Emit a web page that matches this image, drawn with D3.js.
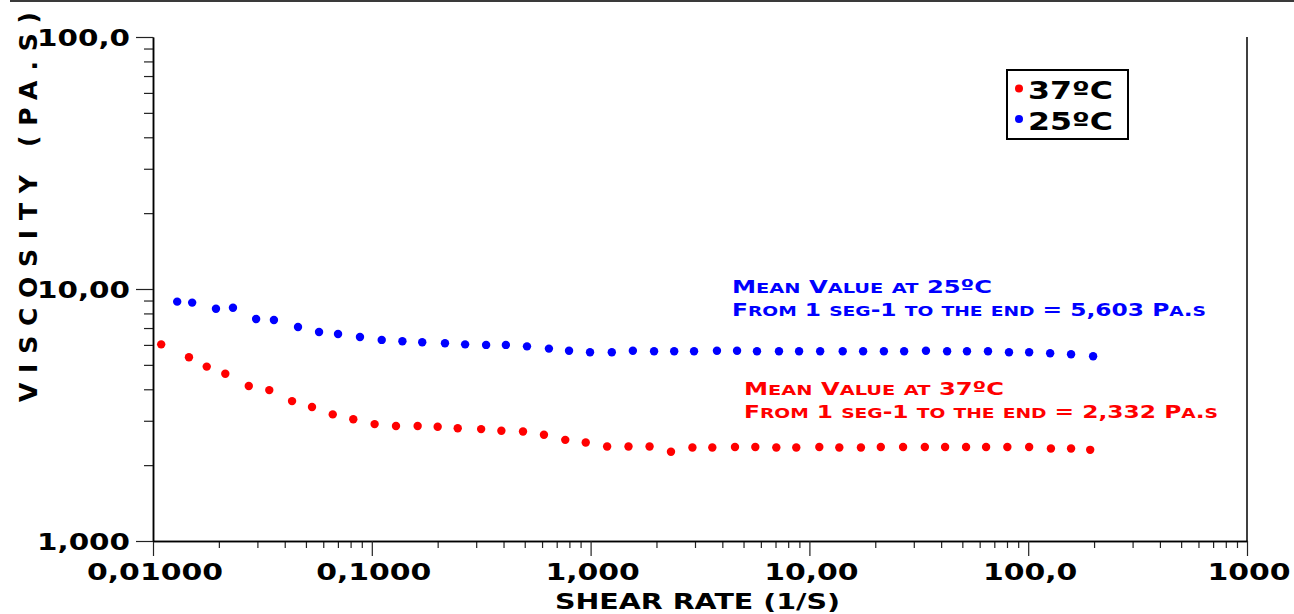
<!DOCTYPE html>
<html>
<head>
<meta charset="utf-8">
<script src="https://cdn.jsdelivr.net/npm/d3@7"></script>
<style>
  body { margin: 0; background: #fff; }
  svg text { font-family: "DejaVu Sans", sans-serif; font-weight: bold; }
</style>
</head>
<body>
<svg id="chart" width="1294" height="614"></svg>
<script>
// --- data ---
const rate37 = [0.0109, 0.0146, 0.0176, 0.0214, 0.0274, 0.0340, 0.0432, 0.0533, 0.0663, 0.0823, 0.103, 0.129,
  0.162, 0.200, 0.247, 0.316, 0.391, 0.491, 0.612, 0.766, 0.950, 1.19, 1.49, 1.86, 2.33, 2.92, 3.60, 4.57, 5.66, 7.06, 8.71, 11.1, 13.7,
  17.2, 21.2, 26.8, 33.7, 41.7, 52.0, 64.2, 80.3, 101, 127, 157, 192];
const visc37 = [6.03, 5.36, 4.92, 4.61, 4.12, 3.97, 3.59, 3.40, 3.18, 3.04, 2.91, 2.86,
  2.86, 2.84, 2.80, 2.78, 2.74, 2.72, 2.64, 2.52, 2.46, 2.37, 2.37, 2.37, 2.26, 2.35, 2.35, 2.36, 2.36, 2.35, 2.35, 2.36, 2.35,
  2.35, 2.36, 2.36, 2.36, 2.36, 2.36, 2.36, 2.36, 2.36, 2.33, 2.33, 2.30];

const rate25 = [0.0129, 0.0151, 0.0194, 0.0232, 0.0296, 0.0357, 0.0460, 0.0574, 0.0701, 0.0883, 0.111,
  0.138, 0.170, 0.216, 0.267, 0.333, 0.410, 0.512, 0.645, 0.797, 0.994, 1.25, 1.56, 1.95, 2.41, 2.97, 3.78, 4.67, 5.76, 7.26, 8.97, 11.2,
  14.2, 17.6, 21.9, 27.1, 34.1, 42.6, 52.5, 65.5, 81.7, 101, 126, 157, 198];
const visc25 = [8.91, 8.83, 8.35, 8.43, 7.60, 7.53, 7.07, 6.75, 6.63, 6.45, 6.28,
  6.20, 6.15, 6.09, 6.03, 6.00, 6.00, 5.92, 5.80, 5.69, 5.61, 5.61, 5.69, 5.66, 5.66, 5.66, 5.69, 5.69, 5.66, 5.66, 5.66, 5.66, 5.66,
  5.66, 5.66, 5.66, 5.69, 5.66, 5.66, 5.66, 5.61, 5.61, 5.56, 5.51, 5.41];

const xTickValues = [0.01, 0.1, 1, 10, 100, 1000];
const xTickLabels = ["0,01000", "0,1000", "1,000", "10,00", "100,0", "1000"];
const yTickValues = [1, 10, 100];
const yTickLabels = ["1,000", "10,00", "100,0"];

const seriesNames = ["37ºC", "25ºC"];
const seriesColors = ["#ff0000", "#0000ff"];

const note25 = ["Mean Value at 25ºC", "From 1 seg-1 to the end = 5,603 Pa.s"];
const note37 = ["Mean Value at 37ºC", "From 1 seg-1 to the end = 2,332 Pa.s"];

const xTitle = "SHEAR RATE (1/S)";
const yTitle = "VISCOSITY (PA.S)";

// --- layout ---
const svg = d3.select("#chart");
const plotL = 153, plotR = 1247, plotT = 37, plotB = 541;

const x = d3.scaleLog().domain([0.01, 1000]).range([plotL, plotR]);
const y = d3.scaleLog().domain([1, 100]).range([plotB, plotT]);

// stretch a text so it looks like the wide copperplate face
function widen(sel, k, anchor) {
  sel.each(function () {
    const t = d3.select(this);
    const w = this.getComputedTextLength() * k;
    const x0 = +t.attr("x");
    t.attr("textLength", w).attr("lengthAdjust", "spacingAndGlyphs")
      .attr("text-anchor", "start")
      .attr("x", anchor === "middle" ? x0 - w / 2 : anchor === "end" ? x0 - w : x0);
  });
}

// small caps by hand: lowercase runs drawn as smaller capitals
function smallCaps(textSel, str, size) {
  const runs = str.match(/[a-z]+|[^a-z]+/g);
  runs.forEach(r => {
    const low = /[a-z]/.test(r[0]);
    textSel.append("tspan")
      .attr("font-size", low ? size * 0.8 : size)
      .text(r.toUpperCase());
  });
}

// top rule
svg.append("line")
  .attr("x1", 10).attr("x2", 1294).attr("y1", 1).attr("y2", 1)
  .attr("stroke", "#3a3a3a").attr("stroke-width", 2);

// right frame
svg.append("line")
  .attr("x1", plotR).attr("x2", plotR).attr("y1", plotT).attr("y2", plotB)
  .attr("stroke", "#000").attr("stroke-width", 1.5);

// axes: minor ticks first, then major
const xMinor = x.ticks().filter(v => !xTickValues.includes(v));
const yMinor = y.ticks().filter(v => !yTickValues.includes(v));

const gx = svg.append("g").attr("transform", `translate(0,${plotB})`);
gx.append("g").call(d3.axisBottom(x).tickValues(xMinor).tickSize(7).tickSizeOuter(0).tickFormat(""));
gx.append("g").call(d3.axisBottom(x).tickValues(xTickValues).tickSize(15).tickSizeOuter(0).tickFormat(""));

const gy = svg.append("g").attr("transform", `translate(${plotL},0)`);
gy.append("g").call(d3.axisLeft(y).tickValues(yMinor).tickSize(9).tickSizeOuter(0).tickFormat(""));
gy.append("g").call(d3.axisLeft(y).tickValues(yTickValues).tickSize(17).tickSizeOuter(0).tickFormat(""));

svg.selectAll(".domain").attr("stroke", "#000").attr("stroke-width", 1.5);
svg.selectAll(".tick line").attr("stroke", "#222").attr("stroke-width", 1.2);

// tick labels
svg.append("g").selectAll("text")
  .data(xTickValues)
  .enter()
  .append("text")
  .attr("x", d => x(d) + 2)
  .attr("y", plotB + 39)
  .attr("font-size", 23.5)
  .text((d, i) => xTickLabels[i])
  .call(widen, 1.27, "middle");

svg.append("g").selectAll("text")
  .data(yTickValues)
  .enter()
  .append("text")
  .attr("x", 130)
  .attr("y", d => y(d) + 8.5)
  .attr("font-size", 23.5)
  .text((d, i) => yTickLabels[i])
  .call(widen, 1.25, "end");

// axis titles
svg.append("text")
  .attr("x", 697.5).attr("y", 609)
  .attr("text-anchor", "middle")
  .attr("font-size", 21)
  .attr("textLength", 285).attr("lengthAdjust", "spacingAndGlyphs")
  .text(xTitle);

svg.append("text")
  .attr("transform", "translate(37,207) rotate(-90)")
  .attr("text-anchor", "middle")
  .attr("font-size", 25)
  .attr("textLength", 390).attr("lengthAdjust", "spacing")
  .text(yTitle);

// points
const series = [
  { rate: rate37, visc: visc37, color: seriesColors[0] },
  { rate: rate25, visc: visc25, color: seriesColors[1] }
];

series.forEach(s => {
  svg.append("g").selectAll("circle")
    .data(s.rate.map((r, i) => [r, s.visc[i]]))
    .enter()
    .append("circle")
    .attr("cx", d => x(d[0]))
    .attr("cy", d => y(d[1]))
    .attr("r", 4.2)
    .attr("fill", s.color);
});

// annotations
function note(lines, x0, y0, color, w1, w2) {
  [w1, w2].forEach((w, i) => {
    const t = svg.append("text")
      .attr("x", x0).attr("y", y0 + i * 23.5)
      .attr("fill", color)
      .attr("textLength", w).attr("lengthAdjust", "spacingAndGlyphs");
    smallCaps(t, lines[i], 18.5);
  });
}
note(note25, 732, 292.5, "#0000ff", 260, 474);
note(note37, 744, 394.5, "#ff0000", 260, 474);

// legend
const legend = svg.append("g");
legend.append("rect")
  .attr("x", 1007).attr("y", 70).attr("width", 121).attr("height", 69)
  .attr("fill", "#fff").attr("stroke", "#000").attr("stroke-width", 2);

const items = legend.selectAll("g.item")
  .data(seriesNames)
  .enter()
  .append("g")
  .attr("class", "item")
  .attr("transform", (d, i) => `translate(0,${i * 30.5})`);

items.append("circle")
  .attr("cx", 1019).attr("cy", 88.5).attr("r", 4)
  .attr("fill", (d, i) => seriesColors[i]);

items.append("text")
  .attr("x", 1028).attr("y", 99)
  .attr("font-size", 25)
  .attr("textLength", 85).attr("lengthAdjust", "spacingAndGlyphs")
  .text(d => d);
</script>
</body>
</html>
